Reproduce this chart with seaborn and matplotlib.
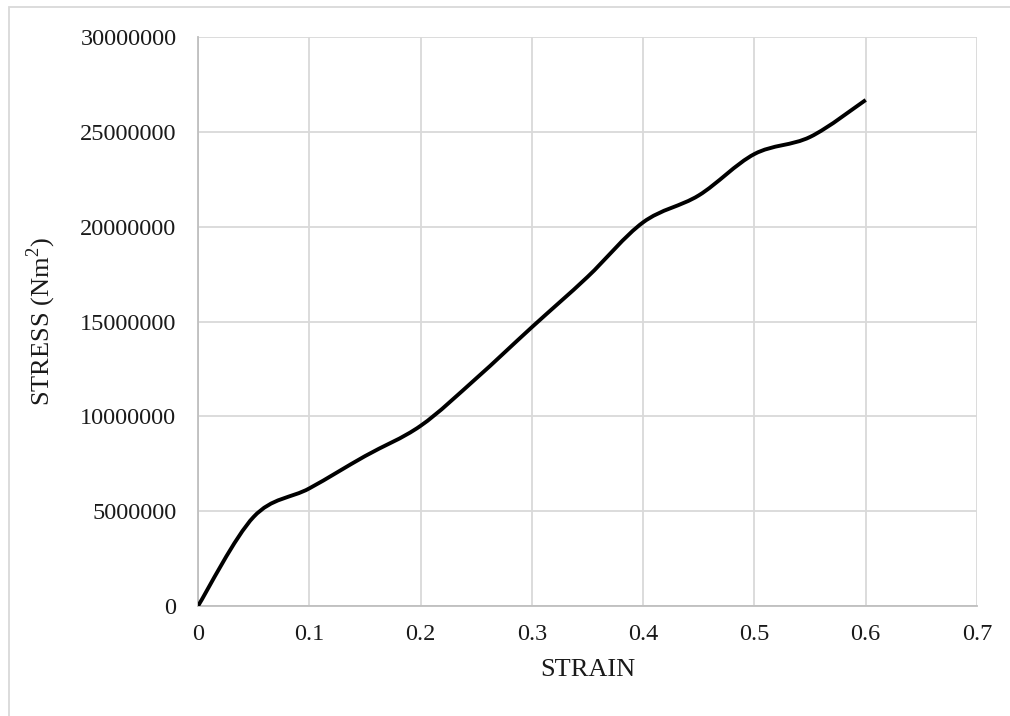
import numpy as np
import seaborn as sns
import matplotlib.pyplot as plt
from matplotlib.path import Path
from matplotlib.patches import PathPatch, Rectangle

sns.set_style("white")
plt.rcParams['font.family'] = ['Liberation Serif', 'DejaVu Serif']
plt.rcParams['mathtext.fontset'] = 'custom'
plt.rcParams['mathtext.rm'] = 'Liberation Serif'

# values
strain = [0.0, 0.05, 0.10, 0.15, 0.20, 0.25, 0.30, 0.35, 0.40, 0.45, 0.50, 0.55, 0.60]
stress = [0, 4700000, 6200000, 7900000, 9500000, 12000000, 14700000,
          17350000, 20230000, 21650000, 23830000, 24730000, 26680000]
x_ticks = [0, 0.1, 0.2, 0.3, 0.4, 0.5, 0.6, 0.7]
x_tick_labels = ['0', '0.1', '0.2', '0.3', '0.4', '0.5', '0.6', '0.7']
y_ticks = [0, 5000000, 10000000, 15000000, 20000000, 25000000, 30000000]
y_tick_labels = [str(v) for v in y_ticks]


def smooth_path(xs, ys):
    # Excel style smoothed line: cubic bezier segments through every point
    pts = np.column_stack([xs, ys]).astype(float)
    padded = np.vstack([pts[0], pts, pts[-1]])
    verts = [pts[0]]
    codes = [Path.MOVETO]
    for i in range(1, len(padded) - 2):
        p0, p1, p2, p3 = padded[i - 1], padded[i], padded[i + 1], padded[i + 2]
        c1 = p1 + (p2 - p0) / 6.0
        c2 = p2 - (p3 - p1) / 6.0
        verts += [c1, c2, p2]
        codes += [Path.CURVE4] * 3
    return Path(verts, codes)


fig = plt.figure(figsize=(10.1, 7.16), dpi=100)
ax = fig.add_axes([198 / 1010, 1 - 606 / 716, (977 - 198) / 1010, (606 - 37) / 716])

ax.add_patch(PathPatch(smooth_path(strain, stress), facecolor='none',
                       edgecolor='black', lw=2.8, capstyle='butt', zorder=3))

ax.set_xlim(0, 0.7)
ax.set_ylim(0, 30000000)
ax.set_xticks(x_ticks)
ax.set_xticklabels(x_tick_labels)
ax.set_yticks(y_ticks)
ax.set_yticklabels(y_tick_labels)
ax.grid(True, color='#d9d9d9', lw=1.3)
ax.set_axisbelow(True)
ax.tick_params(axis='both', length=0, labelsize=17.5, colors='#1a1a1a')
ax.tick_params(axis='y', pad=15.5)
ax.tick_params(axis='x', pad=13)
for s in ['top', 'right']:
    ax.spines[s].set_visible(False)
for s in ['left', 'bottom']:
    ax.spines[s].set_color('#bfbfbf')
    ax.spines[s].set_linewidth(1.3)

ax.set_xlabel('STRAIN', fontsize=19, color='#1a1a1a', labelpad=10)
ax.set_ylabel('STRESS (Nm$^2$)', fontsize=19, color='#1a1a1a', labelpad=16)

# chart area border (only top and left edges fall inside the image)
fig.patches.append(Rectangle((9 / 1010, -0.2), 1.5, 1.2 - 7 / 716,
                             transform=fig.transFigure, fill=False,
                             edgecolor='#d9d9d9', lw=1.3))

fig.savefig('out.png', dpi=100)
